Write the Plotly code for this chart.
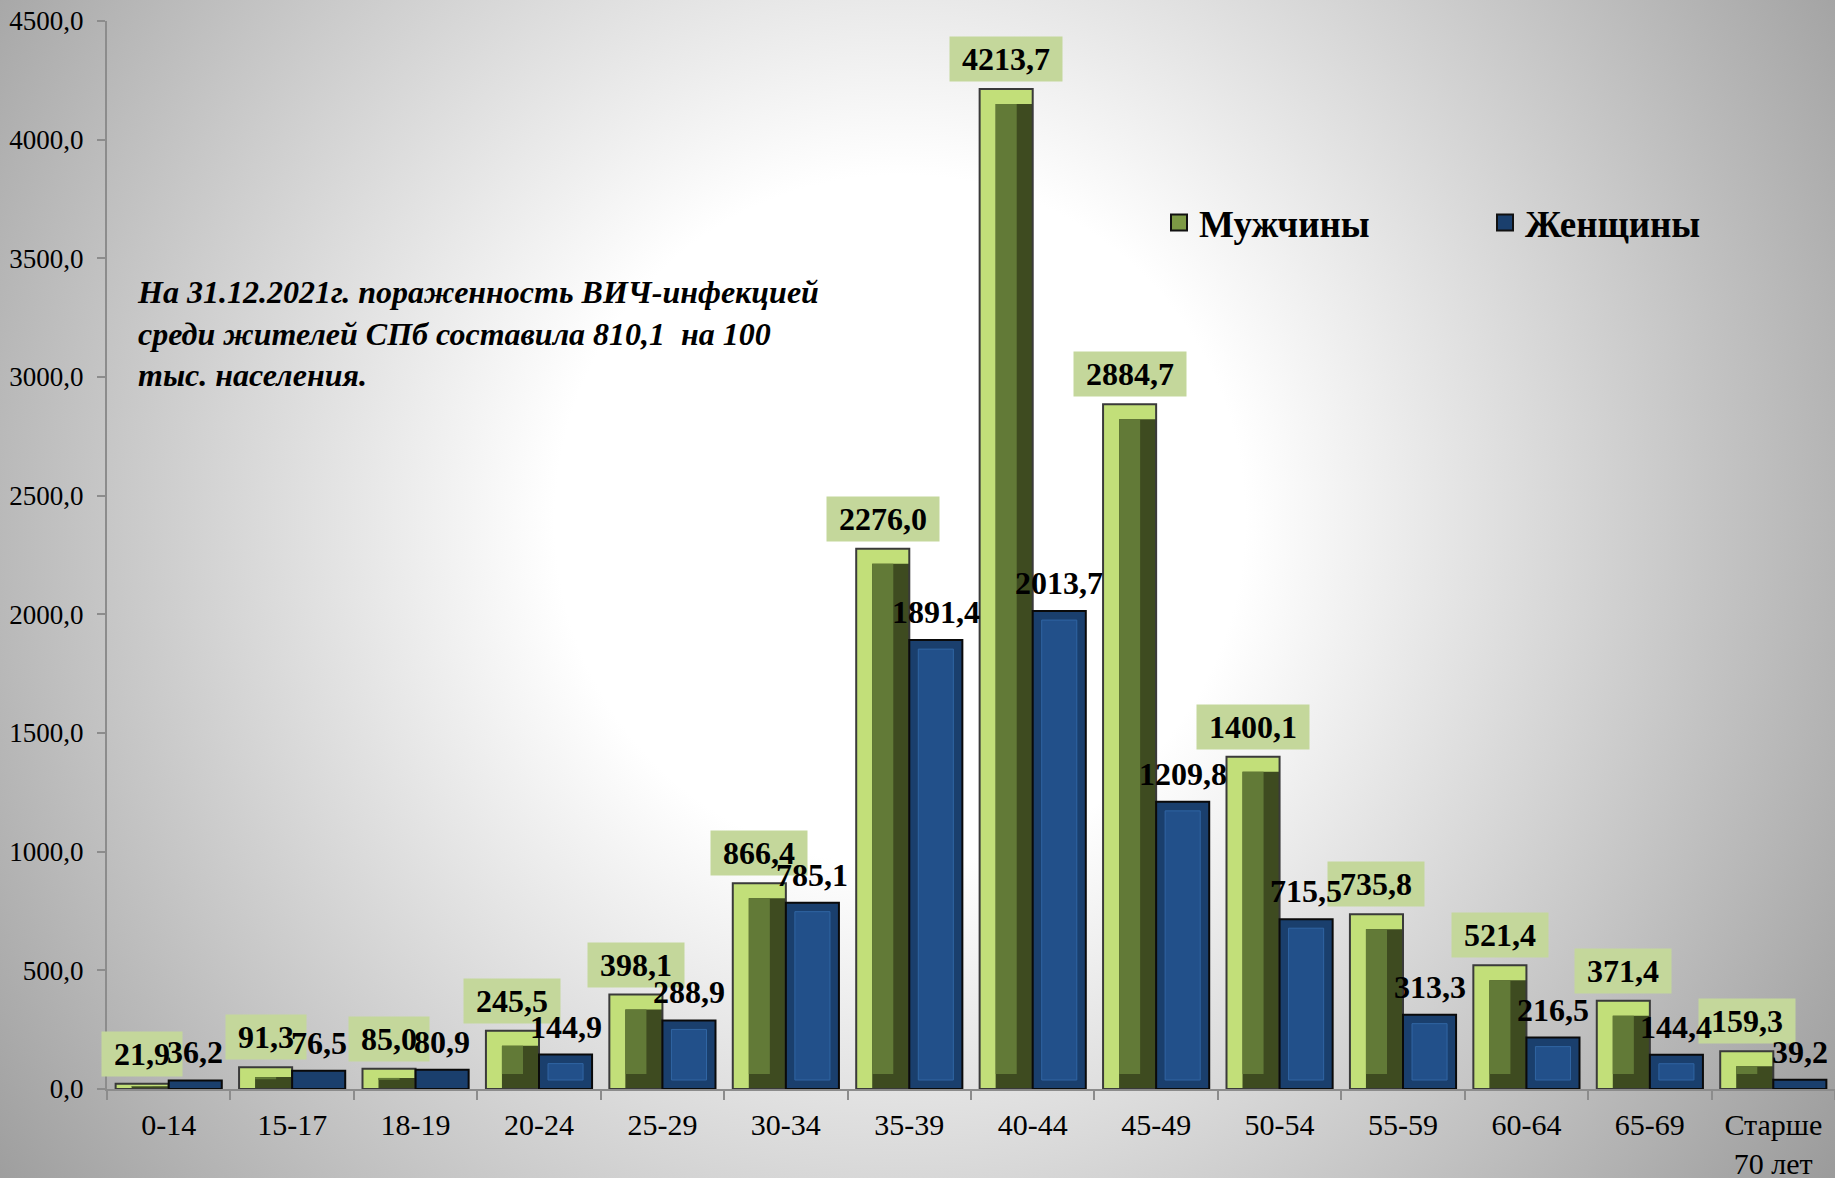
import base64
import plotly.graph_objects as go

# ---------------- data ----------------
categories = ["0-14", "15-17", "18-19", "20-24", "25-29", "30-34", "35-39",
              "40-44", "45-49", "50-54", "55-59", "60-64", "65-69", "Старше<br>70 лет"]
men = [21.9, 91.3, 85.0, 245.5, 398.1, 866.4, 2276.0, 4213.7, 2884.7, 1400.1,
       735.8, 521.4, 371.4, 159.3]
women = [36.2, 76.5, 80.9, 144.9, 288.9, 785.1, 1891.4, 2013.7, 1209.8, 715.5,
         313.3, 216.5, 144.4, 39.2]
y_ticks = [0, 500, 1000, 1500, 2000, 2500, 3000, 3500, 4000, 4500]
y_tick_labels = ["0,0", "500,0", "1000,0", "1500,0", "2000,0", "2500,0",
                 "3000,0", "3500,0", "4000,0", "4500,0"]
series_names = ["Мужчины", "Женщины"]
note_text = ("На 31.12.2021г. пораженность ВИЧ-инфекцией<br>"
             "среди жителей СПб составила 810,1  на 100<br>"
             "тыс. населения.")

# ---------------- geometry / style ----------------
W, H = 1835, 1178
ML, MR, MT, MB = 107, 0, 21, 89
PW, PH = W - ML - MR, H - MT - MB
YMAX = 4500
NCAT = len(categories)
px_x = PW / NCAT          # pixels per x unit
px_y = PH / YMAX          # pixels per y unit
BW = 0.43                 # single bar width (x units)

FONT = "Liberation Serif, Times New Roman, serif"
G_LIGHT, G_MID, G_DARK = "#c2df79", "#627a37", "#3e4b20"
B_OUT, B_IN, B_INLINE = "#1a3f6d", "#22508a", "#3065a3"
LABEL_BG = "#c4d79b"

idx = list(range(NCAT))


def fmt(v):
    return f"{v:.1f}".replace(".", ",")


fig = go.Figure()

# --- men: bevelled green bars built from layered bars ---
bx = 16 / px_x
by = 15 / px_y
m_by = [min(by, v * 0.45) for v in men]
fig.add_trace(go.Bar(x=idx, y=men, width=BW, offset=-BW, marker_color=G_LIGHT,
                     marker_line_width=0, showlegend=False, hoverinfo="skip"))
fig.add_trace(go.Bar(x=idx, y=[v - b for v, b in zip(men, m_by)], width=BW - bx,
                     offset=-BW + bx, marker_color=G_DARK, marker_line_width=0,
                     showlegend=False, hoverinfo="skip"))
fig.add_trace(go.Bar(x=idx, y=[max(v - 2 * b, 0) for v, b in zip(men, m_by)],
                     base=m_by, width=BW - 2 * bx, offset=-BW + bx,
                     marker_color=G_MID, marker_line_width=0,
                     showlegend=False, hoverinfo="skip"))
fig.add_trace(go.Bar(x=idx, y=men, width=BW, offset=-BW, name=series_names[0],
                     marker=dict(color="rgba(0,0,0,0)",
                                 line=dict(color="#3a3a3a", width=2)),
                     showlegend=False))

# --- women: bevelled blue bars ---
bbx = 9 / px_x
bby = 9 / px_y
fig.add_trace(go.Bar(x=idx, y=women, width=BW, offset=0, marker_color=B_OUT,
                     marker_line_width=0, showlegend=False, hoverinfo="skip"))
fig.add_trace(go.Bar(x=idx, y=[(v - 2 * bby) if v > 3 * bby else None for v in women],
                     base=bby, width=BW - 2 * bbx, offset=bbx,
                     marker=dict(color=B_IN, line=dict(color=B_INLINE, width=1)),
                     showlegend=False, hoverinfo="skip"))
fig.add_trace(go.Bar(x=idx, y=women, width=BW, offset=0, name=series_names[1],
                     marker=dict(color="rgba(0,0,0,0)",
                                 line=dict(color="#0a0a0a", width=2)),
                     showlegend=False))

# --- legend entries ---
fig.add_trace(go.Scatter(x=[None], y=[None], mode="markers", name=series_names[0],
                         marker=dict(symbol="square", size=16, color="#7d9a45",
                                     line=dict(color="#111", width=2))))
fig.add_trace(go.Scatter(x=[None], y=[None], mode="markers", name=series_names[1],
                         marker=dict(symbol="square", size=16, color=B_OUT,
                                     line=dict(color="#111", width=2))))

# --- data labels ---
annotations = []
for i, v in enumerate(men):
    annotations.append(dict(x=i - BW / 2, y=v, xref="x", yref="y",
                            text=f"<b>&nbsp;{fmt(v)}&nbsp;</b>",
                            showarrow=False, yanchor="bottom", yshift=7,
                            bgcolor=LABEL_BG, borderpad=4,
                            font=dict(family=FONT, size=32, color="black")))
for i, v in enumerate(women):
    annotations.append(dict(x=i + BW / 2, y=v, xref="x", yref="y", text=f"<b>{fmt(v)}</b>",
                            showarrow=False, yanchor="bottom", yshift=8,
                            font=dict(family=FONT, size=32, color="black")))
annotations.append(dict(x=(135 - ML) / PW, y=1 - (272 - MT) / PH, xref="paper", yref="paper",
                        xanchor="left", yanchor="top", align="left", showarrow=False,
                        text=f"<b><i>{note_text}</i></b>",
                        font=dict(family=FONT, size=32, color="black")))

# --- background radial gradient ---
svg = (f'<svg xmlns="http://www.w3.org/2000/svg" width="{W}" height="{H}" '
       f'viewBox="0 0 {W} {H}"><defs><radialGradient id="g" cx="900" cy="520" r="1150" '
       'gradientUnits="userSpaceOnUse"><stop offset="0" stop-color="#ffffff"/>'
       '<stop offset="0.3" stop-color="#ffffff"/><stop offset="1" stop-color="#9a9a9a"/>'
       f'</radialGradient></defs><rect width="{W}" height="{H}" fill="url(#g)"/></svg>')
uri = "data:image/svg+xml;base64," + base64.b64encode(svg.encode()).decode()

fig.update_layout(
    width=W, height=H,
    margin=dict(l=ML, r=MR, t=MT, b=MB, pad=0),
    barmode="overlay",
    paper_bgcolor="#b8b8b8",
    plot_bgcolor="rgba(0,0,0,0)",
    font=dict(family=FONT, color="black"),
    images=[dict(source=uri, xref="paper", yref="paper", x=-ML / PW, y=1 + MT / PH,
                 sizex=W / PW, sizey=H / PH, xanchor="left", yanchor="top",
                 sizing="stretch", layer="below")],
    annotations=annotations,
    legend=dict(orientation="h", x=(1159 - ML) / PW, y=1 - (192 - MT) / PH,
                xanchor="left", yanchor="top", bgcolor="rgba(0,0,0,0)",
                entrywidth=281, entrywidthmode="pixels",
                font=dict(family=FONT, size=37, color="black", weight="bold"),
                itemsizing="trace"),
    xaxis=dict(range=[-0.5, NCAT - 0.5], tickmode="array", tickvals=idx,
               ticktext=categories, ticks="", showgrid=False, zeroline=False,
               showline=True, linecolor="#8c8c8c", linewidth=2, automargin=False,
               tickfont=dict(family=FONT, size=30, color="black"),
               ticklabelstandoff=8,
               minor=dict(tickmode="array", tickvals=[i - 0.5 for i in range(NCAT + 1)],
                          ticks="outside", ticklen=9, tickwidth=2, tickcolor="#8c8c8c",
                          showgrid=False)),
    yaxis=dict(range=[0, YMAX], tickmode="array", tickvals=y_ticks, ticktext=y_tick_labels,
               ticks="outside", ticklen=8, tickwidth=2, tickcolor="#8c8c8c",
               showline=True, linecolor="#8c8c8c", linewidth=2, showgrid=False,
               zeroline=False, ticklabelstandoff=8, automargin=False,
               tickfont=dict(family=FONT, size=27, color="black")),
)

fig.write_html("out.html", config={"displayModeBar": False},
               post_script="document.body.style.margin='0';"
                           "document.body.style.overflow='hidden';")
